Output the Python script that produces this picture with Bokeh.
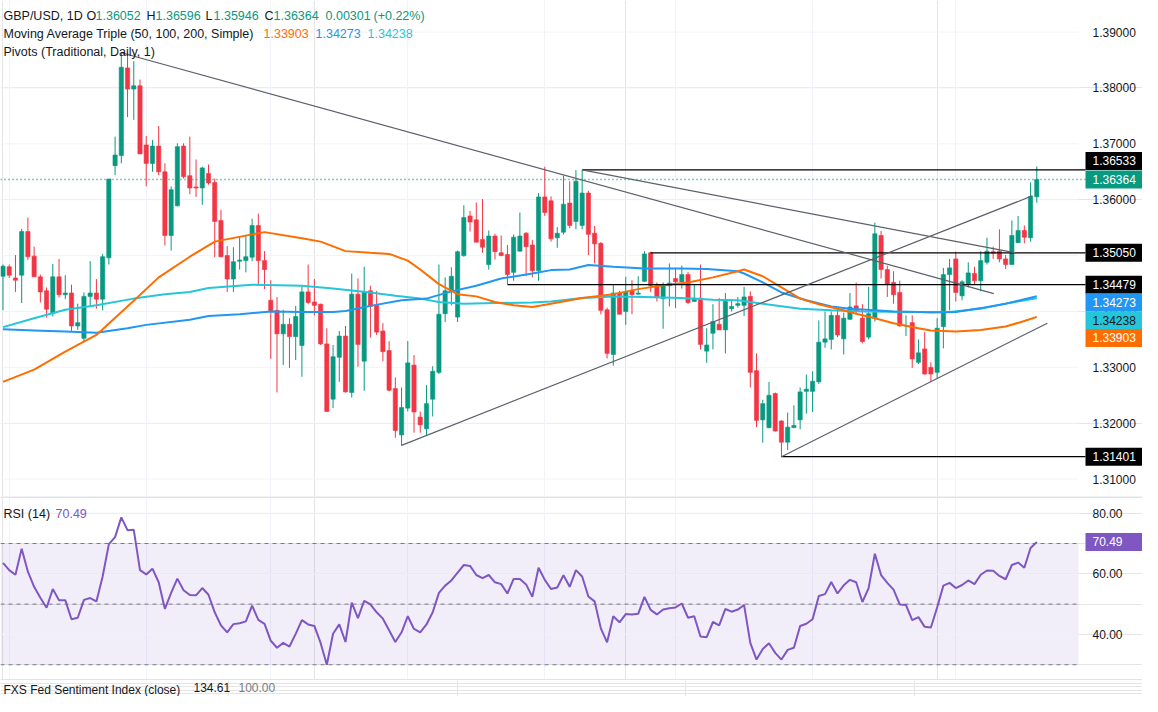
import numpy as np
from bokeh.plotting import figure
from bokeh.layouts import column
from bokeh.models import (Range1d, FixedTicker, Grid, Label, Span, ColumnDataSource)
from bokeh.core.properties import value
from bokeh.embed import file_html
from bokeh.resources import INLINE

# ---------------- data ----------------
opens = [1.3463, 1.3480, 1.3460, 1.3465, 1.3543, 1.3499, 1.3462, 1.3437, 1.3397, 1.3462,
         1.3430, 1.3433, 1.3374, 1.3352, 1.3427, 1.3433, 1.3422, 1.3496, 1.3661, 1.3679,
         1.3836, 1.3798, 1.3804, 1.3698, 1.3665, 1.3696, 1.3650, 1.3536, 1.3589, 1.3696,
         1.3643, 1.3623, 1.3621, 1.3647, 1.3631, 1.3563, 1.3500, 1.3458, 1.3490, 1.3491,
         1.3497, 1.3554, 1.3491, 1.3420, 1.3402, 1.3360, 1.3377, 1.3355, 1.3339, 1.3435,
         1.3417, 1.3413, 1.3342, 1.3243, 1.3318, 1.3356, 1.3255, 1.3431, 1.3311, 1.3437,
         1.3411, 1.3365, 1.3330, 1.3262, 1.3179, 1.3227, 1.3304, 1.3211, 1.3190, 1.3243,
         1.3291, 1.3396, 1.3437, 1.3390, 1.3500, 1.3571, 1.3564, 1.3529, 1.3484, 1.3535,
         1.3505, 1.3502, 1.3470, 1.3508, 1.3540, 1.3519, 1.3473, 1.3605, 1.3598, 1.3532,
         1.3542, 1.3594, 1.3561, 1.3554, 1.3612, 1.3540, 1.3522, 1.3403, 1.3323, 1.3433,
         1.3400, 1.3438, 1.3431, 1.3454, 1.3505, 1.3446, 1.3423, 1.3446, 1.3459, 1.3453,
         1.3466, 1.3418, 1.3424, 1.3329, 1.3361, 1.3377, 1.3367, 1.3405, 1.3411, 1.3411,
         1.3427, 1.3294, 1.3206, 1.3192, 1.3253, 1.3204, 1.3166, 1.3192, 1.3206, 1.3257,
         1.3257, 1.3274, 1.3345, 1.3350, 1.3393, 1.3351, 1.3386, 1.3410, 1.3388, 1.3354,
         1.3388, 1.3536, 1.3475, 1.3452, 1.3434, 1.3374, 1.3380, 1.3309, 1.3333, 1.3300,
         1.3291, 1.3373, 1.3466, 1.3494, 1.3428, 1.3449, 1.3468, 1.3455, 1.3488, 1.3507,
         1.3508, 1.3494, 1.3484, 1.3523, 1.3545, 1.3532, 1.36052]
highs = [1.3484, 1.3484, 1.3501, 1.3548, 1.3568, 1.3516, 1.3466, 1.3443, 1.3485, 1.3494,
         1.3465, 1.3448, 1.3414, 1.3434, 1.3490, 1.3458, 1.3503, 1.3637, 1.3713, 1.3863,
         1.3863, 1.3848, 1.3815, 1.3714, 1.3707, 1.3732, 1.3665, 1.3624, 1.3701, 1.3701,
         1.3713, 1.3672, 1.3659, 1.3663, 1.3638, 1.3582, 1.3517, 1.3515, 1.3535, 1.3536,
         1.3566, 1.3575, 1.3508, 1.3456, 1.3426, 1.3403, 1.3388, 1.3410, 1.3447, 1.3484,
         1.3458, 1.3414, 1.3370, 1.3340, 1.3365, 1.3374, 1.3468, 1.3459, 1.3480, 1.3446,
         1.3437, 1.3379, 1.3347, 1.3282, 1.3264, 1.3347, 1.3322, 1.3221, 1.3268, 1.3302,
         1.3484, 1.3461, 1.3479, 1.3509, 1.3590, 1.3580, 1.3595, 1.3601, 1.3545, 1.3539,
         1.3536, 1.3519, 1.3538, 1.3577, 1.3542, 1.3528, 1.3612, 1.3659, 1.3606, 1.3551,
         1.3643, 1.3633, 1.3653, 1.3653, 1.3616, 1.3553, 1.3524, 1.3407, 1.3449, 1.3437,
         1.3462, 1.3456, 1.3463, 1.3508, 1.3507, 1.3452, 1.3452, 1.3486, 1.3477, 1.3482,
         1.3471, 1.3448, 1.3484, 1.3370, 1.3413, 1.3424, 1.3433, 1.3421, 1.3426, 1.3444,
         1.3436, 1.3325, 1.3242, 1.3274, 1.3255, 1.3205, 1.3219, 1.3232, 1.3264, 1.3287,
         1.3293, 1.3384, 1.3400, 1.3400, 1.3403, 1.3398, 1.3433, 1.3452, 1.3413, 1.3444,
         1.3559, 1.3544, 1.3482, 1.3472, 1.3455, 1.3393, 1.3393, 1.3350, 1.3363, 1.3309,
         1.3388, 1.3478, 1.3494, 1.3507, 1.3456, 1.3488, 1.3480, 1.3508, 1.3532, 1.3516,
         1.3547, 1.3501, 1.3563, 1.3571, 1.3554, 1.3631, 1.36596]
lows = [1.3402, 1.3460, 1.3435, 1.3415, 1.3492, 1.3462, 1.3416, 1.3389, 1.3391, 1.3425,
        1.3422, 1.3365, 1.3367, 1.3345, 1.3411, 1.3405, 1.3402, 1.3484, 1.3644, 1.3665,
        1.3748, 1.3743, 1.3682, 1.3624, 1.3650, 1.3644, 1.3518, 1.3509, 1.3588, 1.3638,
        1.3610, 1.3605, 1.3591, 1.3627, 1.3497, 1.3497, 1.3435, 1.3435, 1.3475, 1.3470,
        1.3490, 1.3446, 1.3440, 1.3315, 1.3255, 1.3304, 1.3299, 1.3313, 1.3283, 1.3413,
        1.3393, 1.3340, 1.3220, 1.3227, 1.3274, 1.3255, 1.3246, 1.3301, 1.3258, 1.3353,
        1.3358, 1.3311, 1.3257, 1.3174, 1.3160, 1.3221, 1.3183, 1.3183, 1.3177, 1.3212,
        1.3288, 1.3381, 1.3411, 1.3381, 1.3498, 1.3543, 1.3524, 1.3505, 1.3475, 1.3493,
        1.3499, 1.3449, 1.3455, 1.3507, 1.3463, 1.3461, 1.3455, 1.3571, 1.3525, 1.3514,
        1.3538, 1.3549, 1.3547, 1.3547, 1.3501, 1.3486, 1.3395, 1.3316, 1.3303, 1.3395,
        1.3376, 1.3395, 1.3430, 1.3453, 1.3435, 1.3418, 1.3369, 1.3409, 1.3406, 1.3441,
        1.3413, 1.3418, 1.3332, 1.3308, 1.3332, 1.3367, 1.3325, 1.3400, 1.3407, 1.3392,
        1.3264, 1.3193, 1.3165, 1.3191, 1.3185, 1.3140, 1.3152, 1.3192, 1.3189, 1.3217,
        1.3220, 1.3270, 1.3335, 1.3332, 1.3354, 1.3323, 1.3385, 1.3396, 1.3343, 1.3350,
        1.3382, 1.3459, 1.3426, 1.3414, 1.3373, 1.3356, 1.3299, 1.3306, 1.3287, 1.3274,
        1.3280, 1.3334, 1.3402, 1.3418, 1.3420, 1.3443, 1.3449, 1.3436, 1.3484, 1.3494,
        1.3488, 1.3476, 1.3484, 1.3523, 1.3522, 1.3525, 1.35946]
closes = [1.3481, 1.3465, 1.3456, 1.3543, 1.3498, 1.3462, 1.3435, 1.3404, 1.3462, 1.3430,
          1.3433, 1.3374, 1.3380, 1.3427, 1.3433, 1.3422, 1.3498, 1.3637, 1.3680, 1.3837,
          1.3798, 1.3804, 1.3682, 1.3665, 1.3696, 1.3650, 1.3536, 1.3618, 1.3695, 1.3641,
          1.3621, 1.3621, 1.3657, 1.3630, 1.3561, 1.3498, 1.3458, 1.3489, 1.3492, 1.3498,
          1.3554, 1.3491, 1.3475, 1.3400, 1.3360, 1.3377, 1.3355, 1.3391, 1.3435, 1.3416,
          1.3411, 1.3342, 1.3221, 1.3319, 1.3356, 1.3256, 1.3431, 1.3341, 1.3435, 1.3409,
          1.3363, 1.3328, 1.3259, 1.3187, 1.3228, 1.3308, 1.3220, 1.3197, 1.3235, 1.3293,
          1.3395, 1.3437, 1.3463, 1.3507, 1.3568, 1.3560, 1.3524, 1.3515, 1.3535, 1.3507,
          1.3500, 1.3466, 1.3533, 1.3535, 1.3516, 1.3473, 1.3605, 1.3577, 1.3530, 1.3540,
          1.3592, 1.3554, 1.3633, 1.3612, 1.3538, 1.3521, 1.3402, 1.3325, 1.3433, 1.3395,
          1.3435, 1.3430, 1.3433, 1.3503, 1.3446, 1.3426, 1.3446, 1.3451, 1.3453, 1.3466,
          1.3416, 1.3424, 1.3341, 1.3340, 1.3382, 1.3367, 1.3418, 1.3409, 1.3414, 1.3426,
          1.3291, 1.3205, 1.3235, 1.3250, 1.3186, 1.3166, 1.3193, 1.3196, 1.3256, 1.3261,
          1.3275, 1.3345, 1.3351, 1.3393, 1.3358, 1.3388, 1.3408, 1.3400, 1.3346, 1.3396,
          1.3539, 1.3475, 1.3449, 1.3430, 1.3374, 1.3375, 1.3315, 1.3326, 1.3288, 1.3288,
          1.3370, 1.3466, 1.3478, 1.3434, 1.3453, 1.3469, 1.3455, 1.3491, 1.3508, 1.3504,
          1.3494, 1.3484, 1.3536, 1.3545, 1.3533, 1.3606, 1.36364]

rsi = [63.6, 61.2, 59.7, 68.3, 60.7, 55.7, 52.1, 48.8, 55.0, 51.3,
       51.3, 45.0, 45.5, 51.4, 52.0, 50.9, 59.1, 69.8, 72.1, 78.6,
       74.4, 74.5, 61.2, 59.8, 61.7, 57.2, 48.4, 53.7, 58.4, 54.6,
       53.0, 52.9, 55.3, 53.1, 47.3, 43.0, 40.7, 43.4, 43.7, 44.3,
       49.5, 44.8, 43.5, 37.9, 35.6, 37.2, 36.0, 40.2, 44.7, 43.3,
       42.8, 37.2, 30.0, 40.2, 43.3, 37.5, 50.5, 45.4, 51.1, 49.9,
       47.3, 45.2, 41.4, 37.5, 40.7, 46.0, 41.8, 40.7, 43.3, 47.3,
       53.7, 56.1, 57.8, 60.4, 62.9, 62.6, 59.6, 58.6, 59.6, 57.2,
       56.6, 53.5, 58.3, 58.3, 56.5, 52.4, 62.0, 58.0, 55.0, 55.5,
       59.5, 55.7, 61.2, 59.1, 52.5, 50.9, 42.0, 37.4, 46.0, 44.0,
       46.7, 46.6, 46.8, 52.4, 48.1, 46.6, 48.2, 48.6, 48.9, 50.2,
       45.5, 46.0, 39.3, 39.1, 44.1, 43.0, 48.4, 47.5, 48.2, 49.7,
       37.2, 31.7, 35.2, 37.1, 33.9, 31.7, 34.9, 35.6, 42.8, 43.5,
       45.0, 52.7, 53.3, 57.3, 53.5, 56.2, 58.0, 57.2, 50.7, 55.3,
       66.6, 59.6, 57.0, 54.8, 49.9, 49.7, 44.7, 45.7, 42.5, 42.3,
       48.9, 56.1, 57.0, 55.3, 56.3, 57.8, 56.6, 59.7, 61.1, 61.0,
       59.3, 58.2, 62.9, 63.7, 62.0, 68.5, 70.49]

ma50_idx = [0, 5, 10, 15, 21, 25, 30, 34, 40, 42, 48, 51, 55, 59, 62, 65, 67, 70, 73, 76,
            79, 82, 85, 88, 93, 98, 102, 106, 110, 114, 118, 119, 122, 125, 128, 131, 134,
            137, 140, 143, 147, 149, 153, 157, 161, 164, 166]
ma50 = [1.3274, 1.3296, 1.3328, 1.3358, 1.3419, 1.3461, 1.3498, 1.3525, 1.3538, 1.3542,
        1.3531, 1.3525, 1.3508, 1.3505, 1.3503, 1.3491, 1.3475, 1.3449, 1.3431, 1.3427,
        1.3417, 1.3411, 1.3408, 1.3414, 1.3424, 1.3431, 1.3440, 1.3447, 1.3452, 1.3461,
        1.3472, 1.3475, 1.3463, 1.3443, 1.3423, 1.3413, 1.3405, 1.3396, 1.3388, 1.3379,
        1.3370, 1.3366, 1.3364, 1.3367, 1.3373, 1.3383, 1.33903]
ma100_idx = [0, 5, 10, 15, 20, 23, 30, 33, 38, 43, 48, 53, 55, 59, 64, 68, 72, 76, 80, 85,
             88, 91, 94, 98, 103, 109, 113, 118, 119, 122, 125, 129, 133, 136, 140, 143,
             147, 149, 153, 157, 161, 166]
ma100 = [1.3368, 1.3366, 1.3364, 1.3362, 1.3370, 1.3376, 1.3385, 1.3392, 1.3395, 1.3400,
         1.3399, 1.3399, 1.3401, 1.3410, 1.3420, 1.3423, 1.3436, 1.3446, 1.3459, 1.3468,
         1.3474, 1.3475, 1.3483, 1.3480, 1.3477, 1.3477, 1.3476, 1.3472, 1.3468, 1.3452,
         1.3434, 1.3420, 1.3409, 1.3405, 1.3402, 1.3400, 1.3399, 1.3398, 1.3399, 1.3406,
         1.3414, 1.34273]
ma200_idx = [0, 5, 10, 15, 21, 26, 30, 33, 40, 48, 53, 59, 63, 67, 70, 74, 79, 85, 88, 93,
             98, 103, 109, 114, 118, 122, 128, 133, 138, 147, 152, 157, 161, 166]
ma200 = [1.3372, 1.3388, 1.3403, 1.3411, 1.3423, 1.3431, 1.3435, 1.3442, 1.3448, 1.3446,
         1.3441, 1.3434, 1.3428, 1.3423, 1.3417, 1.3414, 1.3415, 1.3416, 1.3418, 1.3424,
         1.3427, 1.3426, 1.3424, 1.3421, 1.3420, 1.3414, 1.3405, 1.3402, 1.3400, 1.3399,
         1.3399, 1.3405, 1.3414, 1.34238]

month_idx = [1, 23, 43, 65, 87, 108, 130, 153]
price_ticks = [1.31, 1.32, 1.33, 1.34, 1.35, 1.36, 1.37, 1.38, 1.39]
rsi_ticks = [40, 60, 80]
rsi_levels = [70, 50, 30]

pivot_levels = [1.36533, 1.35050, 1.34479, 1.31401]
pivot_start = [93, 104, 81, 125]

trend_x0 = [19, 93, 64, 125]
trend_y0 = [1.3863, 1.36533, 1.31604, 1.31401]
trend_x1 = [159.1, 162.6, 165.3, 167.7]
trend_y1 = [1.3432, 1.3505, 1.3607, 1.3379]

last_change = 0.00301
last_pct = 0.22
fed_index = 134.61
fed_base = 100.00

# ---------------- styling / geometry ----------------
UP, DOWN = "#089981", "#f23645"
ORANGE, BLUE, CYAN, PURPLE = "#ff6d00", "#2196f3", "#26c6da", "#7e57c2"
DARK = "#131722"
GRID = "#f0f3fa"
SEP = "#e0e3eb"
FONT = "Liberation Sans"

W = 1142            # whole width; chart area is the left CHART_W px, price scale the rest
CHART_W = 1078
X0, X1 = -0.4, 172.7
PXU = CHART_W / (X1 - X0)          # pixels per candle
X_END = X0 + W / PXU
LBL_X = X1 + 14 / PXU               # left edge of scale texts
TAG_L = X1 + 7 / PXU                # left edge of scale tags
TAG_XC = X1 + (7 + 29) / PXU        # centre of scale tags
MAIN_H, RSI_H, BOT_H = 496, 184, 16
PY0, PY1 = 1.30688, 1.39566
RY0, RY1 = 24.8, 85.5

n = len(opens)
xs = np.arange(n)
o = np.array(opens); c = np.array(closes)
colors = [UP if cc >= oo else DOWN for oo, cc in zip(opens, closes)]


def base_fig(h, y0, y1):
    f = figure(width=W, height=h, x_range=Range1d(X0, X_END), y_range=Range1d(y0, y1),
               output_backend="svg", toolbar_location=None, x_axis_location=None,
               y_axis_location=None, min_border=0, min_border_left=0, min_border_right=0,
               min_border_top=0, min_border_bottom=0, outline_line_color=None,
               background_fill_color="white", border_fill_color="white")
    f.add_layout(Grid(dimension=0, ticker=FixedTicker(ticks=month_idx), grid_line_color=GRID))
    return f


def scale(f, ticks, fmt):
    f.segment(x0=X0, y0=ticks, x1=X1, y1=ticks, line_color=GRID, line_width=1)
    f.text(x=[LBL_X] * len(ticks), y=ticks, text=[fmt.format(t) for t in ticks],
           text_font=value(FONT), text_font_size=value("12px"), text_color=DARK,
           text_baseline="middle", text_align="left")


def tags(f, ys, labels, bgs, fgs):
    f.rect(x=[TAG_XC] * len(ys), y=ys, width=58, height=18, width_units="screen",
           height_units="screen", fill_color=bgs, line_color=None)
    f.text(x=[LBL_X] * len(ys), y=ys, text=labels, text_color=fgs,
           text_font=value(FONT), text_font_size=value("12px"),
           text_baseline="middle", text_align="left")


def label(f, x, y, s, color, size="12.5px", baseline="middle"):
    f.add_layout(Label(x=x, y=y, x_units="screen", y_units="screen", text=s,
                       text_color=color, text_font=FONT, text_font_size=size,
                       text_baseline=baseline, text_align="left"))


# ---------------- main price pane ----------------
p = base_fig(MAIN_H, PY0, PY1)
scale(p, price_ticks, "{:.5f}")

src = ColumnDataSource(dict(x=xs, high=highs, low=lows,
                            top=np.maximum(o, c), bottom=np.minimum(o, c), color=colors))
p.segment("x", "high", "x", "low", source=src, line_color="color", line_width=1)
p.vbar("x", 0.68, "top", "bottom", source=src, fill_color="color", line_color="color",
       line_width=0.6)

p.line(ma200_idx, ma200, line_color=CYAN, line_width=2)
p.line(ma100_idx, ma100, line_color=BLUE, line_width=2)
p.line(ma50_idx, ma50, line_color=ORANGE, line_width=2)

p.segment(x0=pivot_start, y0=pivot_levels, x1=TAG_L, y1=pivot_levels,
          line_color="black", line_width=1.3)
p.segment(x0=trend_x0, y0=trend_y0, x1=trend_x1, y1=trend_y1,
          line_color="#5d606b", line_width=1.2)
p.segment(x0=X0, y0=closes[-1], x1=TAG_L, y1=closes[-1], line_color=UP,
          line_dash="1 3", line_width=1.5)

# price-scale tags (some nudged vertically so they do not overlap, as on the original)
ppx = MAIN_H / (PY1 - PY0)   # pixels per price unit
tag_vals = [pivot_levels[0], closes[-1], pivot_levels[1], pivot_levels[2],
            ma100[-1], ma200[-1], ma50[-1], pivot_levels[3]]
tag_nudge = [9, 0, 0, 0, -6, -22, -21, 0]
tag_y = [v + d / ppx for v, d in zip(tag_vals, tag_nudge)]
tags(p, tag_y, [f"{v:.5f}" for v in tag_vals],
     ["#000000", UP, "#000000", "#000000", BLUE, CYAN, ORANGE, "#000000"],
     ["white", "white", "white", "white", "white", DARK, "white", "white"])

# legend-like header
y1, y2, y3 = MAIN_H - 15, MAIN_H - 33, MAIN_H - 51
label(p, 3, y1, "GBP/USD, 1D", DARK)
label(p, 86, y1, "O", DARK); label(p, 95, y1, f"{opens[-1]:.5f}", UP)
label(p, 146, y1, "H", DARK); label(p, 155, y1, f"{highs[-1]:.5f}", UP)
label(p, 205, y1, "L", DARK); label(p, 213, y1, f"{lows[-1]:.5f}", UP)
label(p, 264, y1, "C", DARK); label(p, 273, y1, f"{closes[-1]:.5f}", UP)
label(p, 325, y1, f"{last_change:.5f}", UP)
label(p, 373, y1, f"(+{last_pct:.2f}%)", UP)
label(p, 3, y2, "Moving Average Triple (50, 100, 200, Simple)", DARK)
label(p, 263, y2, f"{ma50[-1]:.5f}", ORANGE)
label(p, 315, y2, f"{ma100[-1]:.5f}", BLUE)
label(p, 367, y2, f"{ma200[-1]:.5f}", CYAN)
label(p, 3, y3, "Pivots (Traditional, Daily, 1)", DARK)

# ---------------- RSI pane ----------------
r = base_fig(RSI_H, RY0, RY1)
r.quad(left=X0, right=X1, bottom=rsi_levels[-1], top=rsi_levels[0],
       fill_color=PURPLE, fill_alpha=0.1, line_color=None)
scale(r, rsi_ticks, "{:.2f}")
r.segment(x0=X0, y0=rsi_levels, x1=X1, y1=rsi_levels, line_color="#787b86",
          line_dash="4 4", line_width=1)
r.add_layout(Span(location=RY1, dimension="width", line_color=SEP, line_width=3))
r.add_layout(Span(location=RY0, dimension="width", line_color=SEP, line_width=3))
r.line(xs, rsi, line_color=PURPLE, line_width=2)
tags(r, [rsi[-1]], [f"{rsi[-1]:.2f}"], [PURPLE], ["white"])
label(r, 3, RSI_H - 17, "RSI (14)", DARK)
label(r, 55, RSI_H - 17, f"{rsi[-1]:.2f}", PURPLE)

# ---------------- bottom pane header ----------------
b = figure(width=W, height=BOT_H, x_range=Range1d(0, 1), y_range=Range1d(0, 1),
           output_backend="svg", toolbar_location=None, x_axis_location=None,
           y_axis_location=None, min_border=0, outline_line_color=None,
           background_fill_color="white", border_fill_color="white")
for x, s, col in [(3, "FXS Fed Sentiment Index (close)", DARK),
                  (193, f"{fed_index:.2f}", DARK),
                  (238, f"{fed_base:.2f}", "#787b86")]:
    label(b, x, BOT_H - 2, s, col, size="12px", baseline="top")

layout = column(p, r, b, spacing=0)
open("out.html", "w").write(file_html(layout, INLINE))
